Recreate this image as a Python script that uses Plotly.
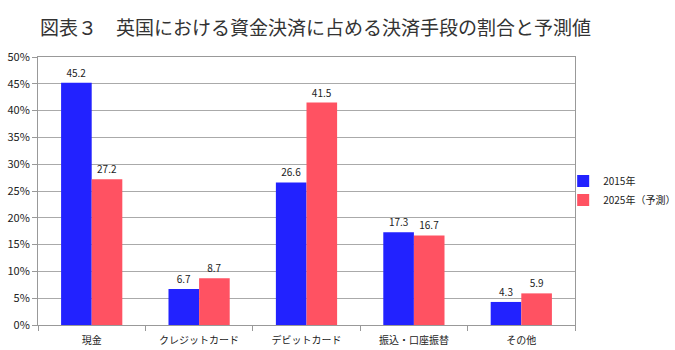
import plotly.graph_objects as go

categories = ["現金", "クレジットカード", "デビットカード", "振込・口座振替", "その他"]
series_names = ["2015年", "2025年（予測）"]
values_2015 = [45.2, 6.7, 26.6, 17.3, 4.3]
values_2025 = [27.2, 8.7, 41.5, 16.7, 5.9]
y_ticks = [0, 5, 10, 15, 20, 25, 30, 35, 40, 45, 50]
y_tick_labels = [f"{v}%" for v in y_ticks]
title_text = "図表３　英国における資金決済に占める決済手段の割合と予測値"

colors = ["#2222FF", "#FF5262"]
font_jp = "Noto Sans CJK JP"

fig = go.Figure()
for name, vals, col in zip(series_names, [values_2015, values_2025], colors):
    fig.add_trace(go.Bar(
        x=categories, y=vals, name=name,
        marker=dict(color=col, line=dict(width=0)),
        text=[f"{v:.1f}" for v in vals], textposition="outside",
        textfont=dict(size=10, color="#222222", family=font_jp),
        cliponaxis=False,
    ))

fig.update_layout(
    width=675, height=350,
    margin=dict(l=38, r=100, t=57, b=25, autoexpand=False),
    paper_bgcolor="white", plot_bgcolor="white",
    barmode="group", bargap=0.43, bargroupgap=0,
    font=dict(family=font_jp, size=10, color="#222222"),
    title=dict(text=title_text, x=40/675, xanchor="left", y=1-28/350, yanchor="middle",
               font=dict(size=19, color="#333333", family=font_jp)),
    legend=dict(x=0.978, y=0.502, xanchor="left", yanchor="middle",
                font=dict(size=10, color="#222222"), itemwidth=30, tracegroupgap=0,
                bgcolor="rgba(0,0,0,0)", borderwidth=0),
    showlegend=True,
)
fig.update_xaxes(
    showline=True, linecolor="#999999", linewidth=1, mirror=True,
    ticks="outside", ticklen=5, tickcolor="#999999",
    tickson="boundaries", tickfont=dict(size=10, color="#222222"),
    ticklabelstandoff=6,
)
fig.update_yaxes(
    range=[0, 50], tickvals=y_ticks, ticktext=y_tick_labels,
    showgrid=True, gridcolor="#AAAAAA", gridwidth=1,
    showline=True, linecolor="#999999", linewidth=1, mirror=True,
    ticks="outside", ticklen=5, tickcolor="#999999",
    tickfont=dict(size=11, color="#222222"), zeroline=False,
)
fig.write_html("out.html")
